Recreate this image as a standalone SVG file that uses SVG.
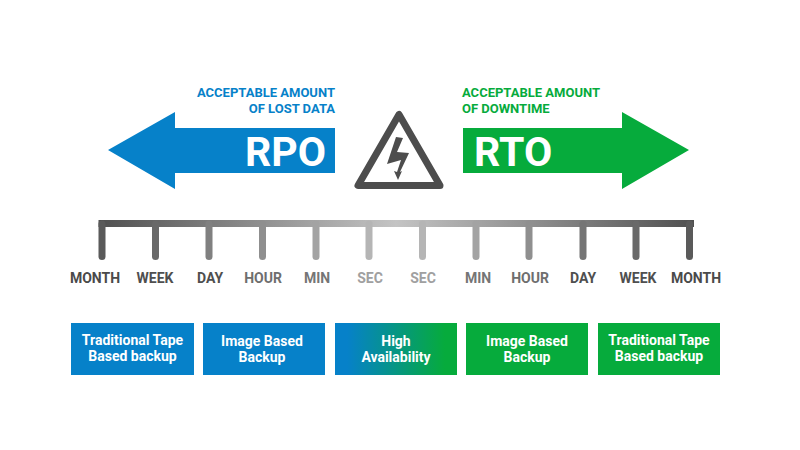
<svg xmlns="http://www.w3.org/2000/svg" width="800" height="450" viewBox="0 0 800 450">
<style>
text{font-family:Roboto,"Noto Sans","DejaVu Sans",sans-serif;font-weight:700}
.cap{font-size:13px}
.big{font-size:41px;fill:#fff}
.tk{font-size:14px;text-anchor:middle}
.bx{font-size:14px;fill:#fff;text-anchor:middle}
.blue{fill:#0681c9}
.green{fill:#06ab3c}
.tick{stroke-width:7;stroke-linecap:round;fill:none}
</style>
<defs>
<linearGradient id="bar" gradientUnits="userSpaceOnUse" x1="98" y1="0" x2="694" y2="0">
<stop offset="0" stop-color="#505050"/><stop offset="0.5" stop-color="#c4c4c4"/><stop offset="1" stop-color="#505050"/>
</linearGradient>
<linearGradient id="ha" gradientUnits="userSpaceOnUse" x1="335" y1="0" x2="457" y2="0">
<stop offset="0.1" stop-color="#0681c9"/><stop offset="0.9" stop-color="#06ab3c"/>
</linearGradient>
</defs>
<rect width="800" height="450" fill="#fff"/>
<g id="rpo">
<polygon class="blue" points="108,150 175,112 175,128 335,128 335,173 175,173 175,189"/>
<text class="big" x="326" y="166" text-anchor="end">RPO</text>
<text class="cap" x="335" y="97" text-anchor="end" fill="#0681c9">ACCEPTABLE AMOUNT</text>
<text class="cap" x="335" y="113" text-anchor="end" fill="#0681c9">OF LOST DATA</text>
</g>
<g id="rto">
<polygon class="green" points="689,150 622,112 622,128 463,128 463,173 622,173 622,189"/>
<text class="big" x="474" y="166">RTO</text>
<text class="cap" x="462" y="97" fill="#06ab3c">ACCEPTABLE AMOUNT</text>
<text class="cap" x="462" y="113" fill="#06ab3c">OF DOWNTIME</text>
</g>
<g id="warning">
<polygon points="399,114.500 358,185.500 440,185.500" fill="#fff" stroke="#4d4d4d" stroke-width="7" stroke-linejoin="round"/>
<polygon points="396,137 403,138 397,152 409,153 400,172 402,171 398,180 394,171 397,172 401,160 387,164" fill="#4d4d4d"/>
</g>
<g id="timeline">
<path d="M98.500 223.500H694" stroke="url(#bar)" stroke-width="7" fill="none"/>
<path class="tick" stroke="#5a5a5a" d="M102 224V256.500"/>
<path class="tick" stroke="#696969" d="M155.500 224V256.500"/>
<path class="tick" stroke="#808080" d="M209 224V256.500"/>
<path class="tick" stroke="#8f8f8f" d="M262.500 224V256.500"/>
<path class="tick" stroke="#a3a3a3" d="M316 224V256.500"/>
<path class="tick" stroke="#b5b5b5" d="M369 224V256.500"/>
<path class="tick" stroke="#b5b5b5" d="M422.500 224V256.500"/>
<path class="tick" stroke="#a3a3a3" d="M476 224V256.500"/>
<path class="tick" stroke="#8f8f8f" d="M529 224V256.500"/>
<path class="tick" stroke="#757575" d="M583 224V256.500"/>
<path class="tick" stroke="#696969" d="M636 224V256.500"/>
<path class="tick" stroke="#5a5a5a" d="M689.500 224V256.500"/>
<text class="tk" x="95" y="283" fill="#4a4a4a">MONTH</text>
<text class="tk" x="155" y="283" fill="#4f4f4f">WEEK</text>
<text class="tk" x="210" y="283" fill="#4f4f4f">DAY</text>
<text class="tk" x="263" y="283" fill="#6e6e6e">HOUR</text>
<text class="tk" x="317" y="283" fill="#757575">MIN</text>
<text class="tk" x="370" y="283" fill="#a0a0a0">SEC</text>
<text class="tk" x="423" y="283" fill="#a0a0a0">SEC</text>
<text class="tk" x="478" y="283" fill="#757575">MIN</text>
<text class="tk" x="530" y="283" fill="#6e6e6e">HOUR</text>
<text class="tk" x="583" y="283" fill="#4f4f4f">DAY</text>
<text class="tk" x="638" y="283" fill="#4f4f4f">WEEK</text>
<text class="tk" x="696" y="283" fill="#4a4a4a">MONTH</text>
</g>
<g id="box1"><rect class="blue" x="71" y="323" width="123" height="52"/><text class="bx" x="132.500" y="345">Traditional Tape</text><text class="bx" x="132.500" y="361">Based backup</text></g>
<g id="box2"><rect class="blue" x="203" y="323" width="122" height="52"/><text class="bx" x="262" y="346">Image Based</text><text class="bx" x="262" y="361.500">Backup</text></g>
<g id="box3"><rect fill="url(#ha)" x="335" y="323" width="122" height="52"/><text class="bx" x="396" y="346">High</text><text class="bx" x="396" y="361.500">Availability</text></g>
<g id="box4"><rect class="green" x="466" y="323" width="122" height="52"/><text class="bx" x="527" y="346">Image Based</text><text class="bx" x="527" y="361.500">Backup</text></g>
<g id="box5"><rect class="green" x="598" y="323" width="122" height="52"/><text class="bx" x="659" y="345">Traditional Tape</text><text class="bx" x="659" y="361">Based backup</text></g>
</svg>
